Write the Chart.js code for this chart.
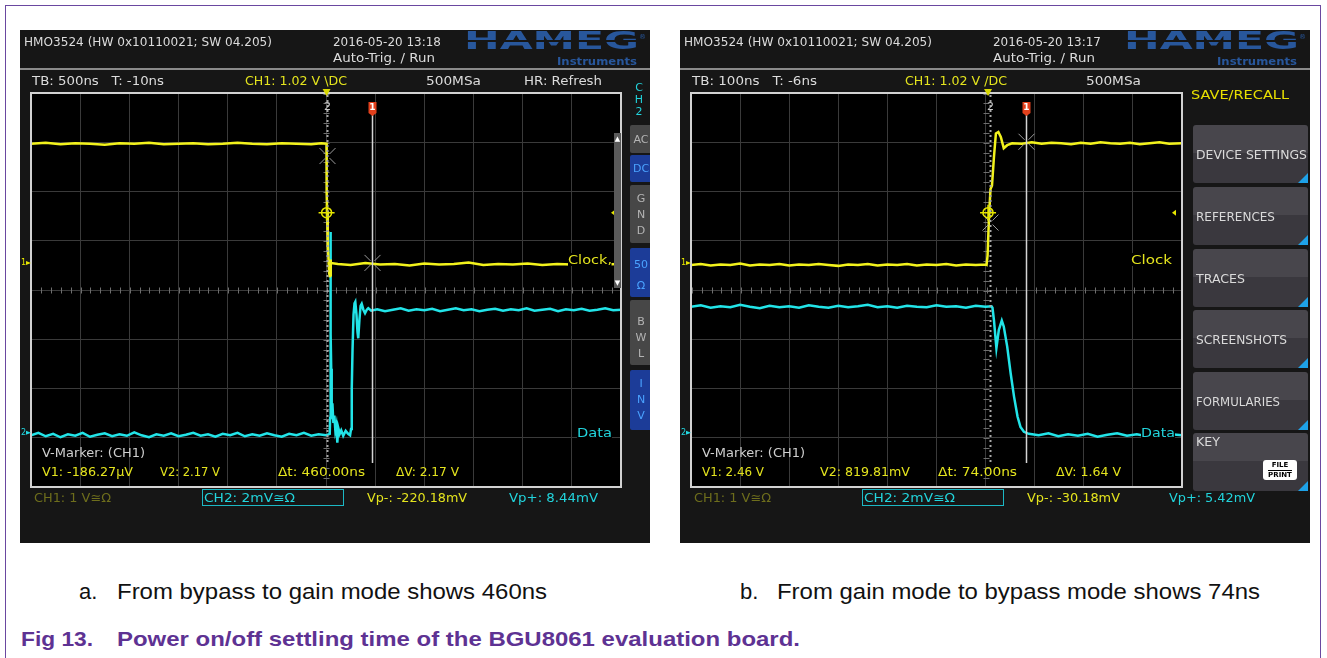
<!DOCTYPE html>
<html><head><meta charset="utf-8">
<script src="https://cdn.jsdelivr.net/npm/chart.js@4.4.1/dist/chart.umd.min.js"></script>
<style>
html,body{margin:0;padding:0;background:#fff;width:1327px;height:658px;overflow:hidden;position:relative}
.a{position:absolute;white-space:pre;line-height:1}
.b{position:absolute}
canvas{position:absolute}
</style></head><body>
<script>
// ---------------- DATA ----------------
// time in ns, amplitude in screen divisions
const leftClock = [[-3000,2.97],[-2850,2.99],[-2700,2.96],[-2550,2.98],[-2400,2.97],[-2250,2.95],[-2100,2.98],[-1950,2.97],[-1800,2.99],[-1650,2.96],[-1500,2.97],[-1350,2.98],[-1200,2.96],[-1050,2.97],[-900,2.99],[-750,2.97],[-600,2.96],[-450,2.98],[-300,2.97],[-150,2.96],[-50,2.98],[5,2.97],
 [7,1.97],[11,1.6],[15,1.22],[20,0.9],[25,0.65],[32,0.35],[38,0.26],[42,0.3],[46,0.62],[50,0.55],
 [120,0.53],[250,0.51],[400,0.55],[550,0.52],[700,0.53],[850,0.50],[1000,0.54],[1150,0.52],[1300,0.53],[1450,0.56],[1600,0.51],[1750,0.53],[1900,0.52],[2050,0.54],[2200,0.51],[2350,0.53],[2500,0.52],[2650,0.55],[2800,0.52],[3000,0.53]];
const leftData = [[-3000,-2.95],[-2925,-2.90],[-2850,-2.97],[-2775,-2.92],[-2700,-2.99],[-2625,-2.93],[-2550,-2.96],[-2475,-2.90],[-2400,-2.98],[-2325,-2.94],[-2250,-2.91],[-2175,-2.97],[-2100,-2.93],[-2025,-2.96],[-1950,-2.89],[-1875,-2.95],[-1800,-2.99],[-1725,-2.93],[-1650,-2.96],[-1575,-2.91],[-1500,-2.97],[-1425,-2.94],[-1350,-2.90],[-1275,-2.96],[-1200,-2.93],[-1125,-2.98],[-1050,-2.92],[-975,-2.95],[-900,-2.90],[-825,-2.97],[-750,-2.93],[-675,-2.96],[-600,-2.91],[-525,-2.95],[-450,-2.98],[-375,-2.92],[-300,-2.95],[-225,-2.90],[-150,-2.96],[-75,-2.93],[0,-2.95],[38,-2.92],
 [42,-2.6],[44,1.18],[46,-0.8],[48,-1.5],[50,-0.9],[53,-1.6],[58,-2.45],[65,-2.3],[75,-2.7],[85,-2.55],[95,-2.85],[105,-2.75],[115,-3.1],[125,-2.8],[140,-2.92],[155,-2.85],[175,-2.96],[200,-2.86],[225,-2.92],[245,-2.95],[255,-2.82],[262,-2.0],[270,-1.2],[280,-0.5],[290,-0.27],[298,-0.24],[310,-0.5],[320,-0.85],[328,-0.98],[340,-0.6],[352,-0.32],[363,-0.28],[380,-0.4],[397,-0.47],[415,-0.4],[430,-0.37],[460,-0.42],
 [520,-0.39],[600,-0.43],[680,-0.40],[760,-0.37],[840,-0.42],[920,-0.39],[1000,-0.41],[1080,-0.38],[1160,-0.43],[1240,-0.40],[1320,-0.37],[1400,-0.41],[1480,-0.39],[1560,-0.43],[1640,-0.40],[1720,-0.38],[1800,-0.42],[1880,-0.39],[1960,-0.41],[2040,-0.37],[2120,-0.42],[2200,-0.40],[2280,-0.38],[2360,-0.43],[2440,-0.39],[2520,-0.41],[2600,-0.38],[2680,-0.42],[2760,-0.40],[2840,-0.37],[2920,-0.41],[3000,-0.40]];
const rightClock = [[-600,0.51],[-580,0.53],[-560,0.50],[-540,0.52],[-520,0.51],[-500,0.54],[-480,0.50],[-460,0.52],[-440,0.51],[-420,0.53],[-400,0.50],[-380,0.52],[-360,0.51],[-340,0.53],[-320,0.51],[-300,0.49],[-280,0.52],[-260,0.51],[-240,0.53],[-220,0.50],[-200,0.52],[-180,0.51],[-160,0.53],[-140,0.50],[-120,0.52],[-100,0.51],[-80,0.53],[-60,0.50],[-40,0.52],[-20,0.51],[0,0.52],[2,0.51],
 [4,0.7],[7,1.49],[10,2.05],[13,2.12],[17,2.7],[21,3.18],[26,3.21],[31,3.11],[37,2.88],[44,2.94],[54,2.98],
 [74,2.97],[94,3.00],[114,2.97],[134,2.99],[154,2.98],[174,2.96],[194,2.99],[214,2.97],[234,3.00],[254,2.98],[274,2.97],[294,2.99],[314,2.96],[334,2.98],[354,3.00],[374,2.97],[400,2.98]];
const rightData = [[-600,-0.34],[-580,-0.31],[-560,-0.36],[-540,-0.33],[-520,-0.35],[-500,-0.30],[-480,-0.34],[-460,-0.37],[-440,-0.32],[-420,-0.35],[-400,-0.33],[-380,-0.36],[-360,-0.31],[-340,-0.34],[-320,-0.36],[-300,-0.32],[-280,-0.35],[-260,-0.33],[-240,-0.30],[-220,-0.35],[-200,-0.33],[-180,-0.36],[-160,-0.32],[-140,-0.34],[-120,-0.35],[-100,-0.31],[-80,-0.34],[-60,-0.33],[-40,-0.36],[-20,-0.32],[0,-0.34],[12,-0.33],
 [14,-0.36],[17,-0.61],[22,-1.18],[27,-0.81],[33,-0.62],[37,-0.74],[44,-1.15],[51,-1.69],[58,-2.17],[65,-2.57],[71,-2.78],[78,-2.88],[88,-2.92],
 [108,-2.95],[128,-2.91],[148,-2.97],[168,-2.93],[188,-2.96],[208,-2.92],[228,-2.98],[248,-2.94],[268,-2.91],[288,-2.96],[308,-2.93],[328,-2.97],[348,-2.94],[368,-2.92],[400,-2.95]];
// time axes [min, max, ns/div]
const leftTimeAxis = [-3000, 3000, 500];
const rightTimeAxis = [-600, 400, 100];
const voltAxis = [-4, 4, 1];
// cursors [cursor1, cursor2] in ns; V-marker values [V1, V2] in volts (CH1 1 V/div)
const leftCursors = [467, 7];
const rightCursors = [82, 8];
const leftVMarker = [-0.000186, 2.17];
const rightVMarker = [2.46, 0.81981];
// trigger time (ns), trigger level (V), channel offsets (div)
const leftTrigger = [6, 1.02];
const rightTrigger = [5, 1.02];
const chOffsets = [0.55, -2.9];

// ---------------- HELPERS ----------------
const SF = '"DejaVu Sans", sans-serif';
function box(x, y, w, h, bg, extra) {
  const d = document.createElement('div'); d.className = 'b';
  Object.assign(d.style, {left: x + 'px', top: y + 'px', width: w + 'px', height: h + 'px', background: bg}, extra || {});
  document.body.appendChild(d); return d;
}
function T(x, cy, s, o) {
  o = o || {};
  const d = document.createElement('div'); d.className = 'a';
  const size = o.size || 12;
  d.style.fontSize = size + 'px';
  d.style.fontFamily = o.font || SF;
  d.style.color = o.color || '#dcdcdc';
  if (o.bold) d.style.fontWeight = 'bold';
  if (o.bg) { d.style.background = o.bg; }
  d.style.zIndex = o.z || 5;
  d.textContent = s;
  document.body.appendChild(d);
  const r = d.getBoundingClientRect();
  let left = x;
  if (o.center) left = x - r.width / 2;
  d.style.left = left + 'px';
  d.style.top = (cy - size * 0.5) + 'px';
  if (o.w) { d.style.transformOrigin = '0 0'; d.style.transform = 'scaleX(' + (o.w / r.width) + ')'; }
  return d;
}

// ---------------- PAGE FRAME ----------------
box(5, 5, 1316, 700, 'transparent', {border: '1.5px solid #6a48a0', boxSizing: 'border-box'});
// scope backgrounds
[20, 680].forEach(x0 => {
  box(x0, 30, 630, 513, '#161616');
  box(x0, 68, 630, 2, '#8a8a8a');
});

// ---------------- PLUGIN ----------------
const scopePlugin = {
  id: 'scope',
  beforeDraw(chart) {
    const {ctx, chartArea: c} = chart;
    ctx.save(); ctx.fillStyle = '#000'; ctx.fillRect(c.left, c.top, c.right - c.left, c.bottom - c.top); ctx.restore();
  },
  beforeDatasetsDraw(chart, args, o) {
    const {ctx, chartArea: c, scales: {x, y}} = chart;
    const cx = Math.round(x.getPixelForValue(0)) + 0.5, cy = Math.round(y.getPixelForValue(0)) + 0.5;
    const sx = (x.getPixelForValue(o.step) - x.getPixelForValue(0)) / 5;
    const sy = (y.getPixelForValue(0) - y.getPixelForValue(1)) / 5;
    ctx.save(); ctx.strokeStyle = '#6e6e6e'; ctx.lineWidth = 1; ctx.beginPath();
    for (let k = -80; k <= 80; k++) { const px = Math.round(cx + k * sx) + 0.5; if (px <= c.left + 1 || px >= c.right - 1) continue; ctx.moveTo(px, cy - 3); ctx.lineTo(px, cy + 3); }
    for (let k = -30; k <= 30; k++) { const py = Math.round(cy + k * sy) + 0.5; if (py <= c.top + 1 || py >= c.bottom - 1) continue; ctx.moveTo(cx - 3, py); ctx.lineTo(cx + 3, py); }
    ctx.stroke(); ctx.restore();
  },
  afterDatasetsDraw(chart, args, o) {
    const {ctx, chartArea: c, scales: {x, y}} = chart;
    const x1 = Math.round(x.getPixelForValue(o.cursors[0])) + 0.5;
    const x2 = Math.round(x.getPixelForValue(o.cursors[1])) + 0.5;
    const yb = c.bottom - 24;
    ctx.save();
    ctx.strokeStyle = '#a8a8a8'; ctx.lineWidth = 2; ctx.setLineDash([2, 3]);
    ctx.beginPath(); ctx.moveTo(x2, c.top + 2); ctx.lineTo(x2, yb); ctx.stroke();
    ctx.setLineDash([]);
    ctx.strokeStyle = '#d4d4d4'; ctx.lineWidth = 1.5;
    ctx.beginPath(); ctx.moveTo(x1, c.top + 22); ctx.lineTo(x1, yb); ctx.stroke();
    ctx.fillStyle = '#e2401c';
    ctx.beginPath(); ctx.moveTo(x1 - 4, c.top + 9); ctx.lineTo(x1 + 4, c.top + 9); ctx.lineTo(x1 + 4, c.top + 20); ctx.lineTo(x1, c.top + 23); ctx.lineTo(x1 - 4, c.top + 20); ctx.closePath(); ctx.fill();
    ctx.fillStyle = '#fff'; ctx.font = 'bold 9px ' + SF; ctx.textAlign = 'center'; ctx.textBaseline = 'middle';
    ctx.fillText('1', x1, c.top + 15);
    ctx.fillStyle = '#c8c8c8'; ctx.font = '11px ' + SF;
    ctx.fillText('2', x2, c.top + 14);
    const cross = (px, py, r) => {
      ctx.strokeStyle = '#9c9c9c'; ctx.lineWidth = 1; ctx.beginPath();
      [[1, 1], [1, -1], [-1, 1], [-1, -1]].forEach(([a, b]) => { ctx.moveTo(px + a * 2, py + b * 2); ctx.lineTo(px + a * r, py + b * r); });
      ctx.stroke();
    };
    cross(x1, y.getPixelForValue(o.vmarker[0] + o.off[0]), 8);
    cross(x2, y.getPixelForValue(o.vmarker[1] + o.off[0]), 8);
    const tx = x.getPixelForValue(o.trigger[0]), ty = y.getPixelForValue(o.trigger[1] + o.off[0]);
    ctx.strokeStyle = '#e6e600'; ctx.lineWidth = 1.5;
    ctx.beginPath(); ctx.arc(tx, ty, 5, 0, Math.PI * 2); ctx.stroke();
    ctx.beginPath(); ctx.moveTo(tx - 8, ty); ctx.lineTo(tx + 8, ty); ctx.moveTo(tx, ty - 8); ctx.lineTo(tx, ty + 8); ctx.stroke();
    ctx.strokeStyle = '#d2d2d2'; ctx.lineWidth = 2;
    ctx.strokeRect(c.left, c.top, c.right - c.left, c.bottom - c.top);
    ctx.fillStyle = '#d8d800';
    ctx.beginPath(); ctx.moveTo(tx - 4, c.top - 4); ctx.lineTo(tx + 4, c.top - 4); ctx.lineTo(tx, c.top + 3); ctx.closePath(); ctx.fill();
    ctx.fillStyle = '#e6e600';
    ctx.beginPath(); ctx.moveTo(c.right - 10, ty); ctx.lineTo(c.right - 6, ty - 3); ctx.lineTo(c.right - 6, ty + 3); ctx.closePath(); ctx.fill();
    const cm = (off, col, lab) => {
      const py = y.getPixelForValue(off);
      ctx.fillStyle = col; ctx.font = '8px ' + SF; ctx.textAlign = 'left'; ctx.textBaseline = 'middle';
      ctx.fillText(lab, c.left - 10, py);
      ctx.beginPath(); ctx.moveTo(c.left - 5, py - 2); ctx.lineTo(c.left, py); ctx.lineTo(c.left - 5, py + 2); ctx.closePath(); ctx.fill();
    };
    cm(o.off[0], '#e6e600', '1');
    cm(o.off[1], '#22d8e0', '2');
    ctx.restore();
  }
};

function makeScope(left, clock, data, axis, pad, cursors, vm, trig) {
  const cv = document.createElement('canvas');
  cv.width = 630; cv.height = 513;
  cv.style.left = left + 'px'; cv.style.top = '30px'; cv.style.zIndex = 2;
  document.body.appendChild(cv);
  const grid = {color: '#3a3a3a', drawTicks: false, lineWidth: 1};
  new Chart(cv, {
    type: 'line',
    data: {datasets: [
      {data: clock.map(p => ({x: p[0], y: p[1]})), borderColor: '#f2f21c', borderWidth: 2.5, pointRadius: 0, tension: 0},
      {data: data.map(p => ({x: p[0], y: p[1]})), borderColor: '#22e4e8', borderWidth: 2.5, pointRadius: 0, tension: 0}
    ]},
    options: {
      responsive: false, animation: false, devicePixelRatio: 1, events: [],
      layout: {padding: pad, autoPadding: false},
      plugins: {legend: {display: false}, tooltip: {enabled: false},
        scope: {step: axis[2], cursors: cursors, vmarker: vm, trigger: trig, off: chOffsets}},
      scales: {
        x: {type: 'linear', min: axis[0], max: axis[1], ticks: {display: false, stepSize: axis[2]}, grid: grid, border: {display: false}},
        y: {type: 'linear', min: voltAxis[0], max: voltAxis[1], ticks: {display: false, stepSize: voltAxis[2]}, grid: grid, border: {display: false}}
      }
    },
    plugins: [scopePlugin]
  });
}
makeScope(20, leftClock, leftData, leftTimeAxis, {left: 11, top: 63, right: 29, bottom: 56}, leftCursors, leftVMarker, leftTrigger);
makeScope(680, rightClock, rightData, rightTimeAxis, {left: 11, top: 63, right: 128, bottom: 56}, rightCursors, rightVMarker, rightTrigger);

// ---------------- SCOPE TEXTS ----------------
const Y = '#e4e41e', C = '#22d4dc', W = '#dcdcdc';
function header(x0, date, tb, ch1, hr) {
  T(x0 + 4, 41, 'HMO3524 (HW 0x10110021; SW 04.205)', {size: 13, w: 248});
  T(x0 + 313, 41, date, {size: 13, w: 108});
  T(x0 + 313, 57, 'Auto-Trig. / Run', {size: 13, w: 102});
  T(x0 + 444, 41, 'HAMEG', {size: 24, bold: true, color: '#28579c', w: 175});
  box(x0 + 444, 40, 176, 1.5, '#161616', {zIndex: 6});
  T(x0 + 619, 37, '®', {size: 7, color: '#28579c'});
  T(x0 + 537, 61, 'Instruments', {size: 11, bold: true, color: '#28579c', w: 80});
  T(x0 + 12, 80, tb[0], {size: 13, w: tb[1]});
  T(x0 + 225, 80, ch1, {size: 13, color: Y, w: 102});
  T(x0 + 406, 80, '500MSa', {size: 13, w: 55});
  if (hr) T(x0 + 504, 80, hr, {size: 13, w: 78});
}
header(20, '2016-05-20 13:18', ['TB: 500ns   T: -10ns', 132], 'CH1: 1.02 V \\DC', 'HR: Refresh');
header(680, '2016-05-20 13:17', ['TB: 100ns   T: -6ns', 125], 'CH1: 1.02 V /DC', null);

function footer(x0, v1, v2, dt, dv, vpm, vpp) {
  T(x0 + 22, 453, 'V-Marker: (CH1)', {size: 12, color: '#cfcfcf', w: 103});
  T(x0 + 22, 472, v1[0], {size: 12, color: Y, w: v1[1]});
  T(x0 + 140, 472, v2[0], {size: 12, color: Y, w: v2[1]});
  T(x0 + 258, 472, dt[0], {size: 12, color: Y, w: dt[1]});
  T(x0 + 376, 472, dv[0], {size: 12, color: Y, w: dv[1]});
  T(x0 + 14, 498, 'CH1: 1 V≅Ω', {size: 12, color: '#6e6e1c', w: 77});
  box(x0 + 182, 489, 142, 17, 'transparent', {border: '1.5px solid #1cb8c4', boxSizing: 'border-box', zIndex: 4});
  T(x0 + 184, 498, 'CH2: 2mV≅Ω', {size: 12, color: C, w: 91});
  T(x0 + 347, 498, vpm[0], {size: 12, color: Y, w: vpm[1]});
  T(x0 + 489, 498, vpp[0], {size: 12, color: C, w: vpp[1]});
}
footer(20, ['V1: -186.27µV', 91], ['V2: 2.17 V', 60], ['Δt: 460.00ns', 87], ['ΔV: 2.17 V', 63], ['Vp-: -220.18mV', 100], ['Vp+: 8.44mV', 89]);
footer(680, ['V1: 2.46 V', 62], ['V2: 819.81mV', 90], ['Δt: 74.00ns', 79], ['ΔV: 1.64 V', 65], ['Vp-: -30.18mV', 93], ['Vp+: 5.42mV', 86]);

T(568, 259, 'Clock,', {size: 13, color: Y, w: 44, bg: '#000'});
T(577, 432, 'Data', {size: 13, color: C, w: 35, bg: '#000'});
T(1131, 259, 'Clock', {size: 13, color: Y, w: 41, bg: '#000'});
T(1141, 432, 'Data', {size: 13, color: C, w: 34, bg: '#000'});

box(614, 133, 7, 155, '#5a5a5a', {zIndex: 4});
T(617.5, 139, '▲', {size: 7, color: '#fff', center: true});
T(617.5, 283, '▼', {size: 7, color: '#fff', center: true});
T(639, 87, 'C', {size: 11, color: C, center: true});
T(639, 99, 'H', {size: 11, color: C, center: true});
T(639, 111, '2', {size: 11, color: C, center: true});
const sideBtns = [[125, 28, '#474747', ['AC'], [139]], [155, 27, '#1c3c98', ['DC'], [168]], [185, 58, '#474747', ['G', 'N', 'D'], [198, 214, 230]],
  [248, 49, '#1c3c98', ['50', 'Ω'], [264, 285]], [300, 65, '#474747', ['B', 'W', 'L'], [321, 337, 353]], [370, 60, '#1c3c98', ['I', 'N', 'V'], [383, 399, 415]]];
sideBtns.forEach(b => {
  box(630, b[0], 20, b[1], b[2], {borderRadius: '2px 0 0 2px', zIndex: 3});
  b[3].forEach((s, i) => T(641, b[4][i], s, {size: 11, color: b[2] === '#474747' ? '#b4b4b4' : '#4aa2ff', center: true}));
});

T(1191, 94, 'SAVE/RECALL', {size: 13, color: '#e8e000', w: 98});
const menu = [['DEVICE SETTINGS', 111], ['REFERENCES', 79], ['TRACES', 49], ['SCREENSHOTS', 91], ['FORMULARIES', 84], ['KEY', 24]];
const menuTop = [125, 187, 249, 310, 372, 433];
menu.forEach((m, i) => {
  const t = menuTop[i];
  box(1193, t, 115, 58, 'linear-gradient(#48464c 0 48%, #3a383e 48% 100%)', {borderRadius: '3px', zIndex: 3});
  box(1298, t + 48, 0, 0, 'transparent', {borderLeft: '10px solid transparent', borderBottom: '10px solid #1ea2e8', zIndex: 4});
  if (i < 5) T(1196, t + 30, m[0], {size: 12, color: '#dadada', w: m[1]});
  else T(1196, t + 9, m[0], {size: 12, color: '#dadada', w: m[1]});
});
box(1263, 460, 34, 20, '#fff', {borderRadius: '3px', zIndex: 4});
T(1280, 465, 'FILE', {size: 7, color: '#000', bold: true, center: true, z: 6});
box(1268, 470, 24, 1, '#000', {zIndex: 6});
T(1280, 475, 'PRINT', {size: 7, color: '#000', bold: true, center: true, z: 6});

const CF = '"Liberation Sans", Arial, sans-serif', P = '#5e3293';
T(79, 592, 'a.', {size: 22, font: CF, color: '#111'});
T(117, 592, 'From bypass to gain mode shows 460ns', {size: 22, font: CF, color: '#111', w: 430});
T(740, 592, 'b.', {size: 22, font: CF, color: '#111'});
T(777, 592, 'From gain mode to bypass mode shows 74ns', {size: 22, font: CF, color: '#111', w: 483});
T(21, 638, 'Fig 13.', {size: 21, font: CF, color: P, bold: true, w: 72});
T(117, 638, 'Power on/off settling time of the BGU8061 evaluation board.', {size: 21, font: CF, color: P, bold: true, w: 683});
</script>
</body></html>
